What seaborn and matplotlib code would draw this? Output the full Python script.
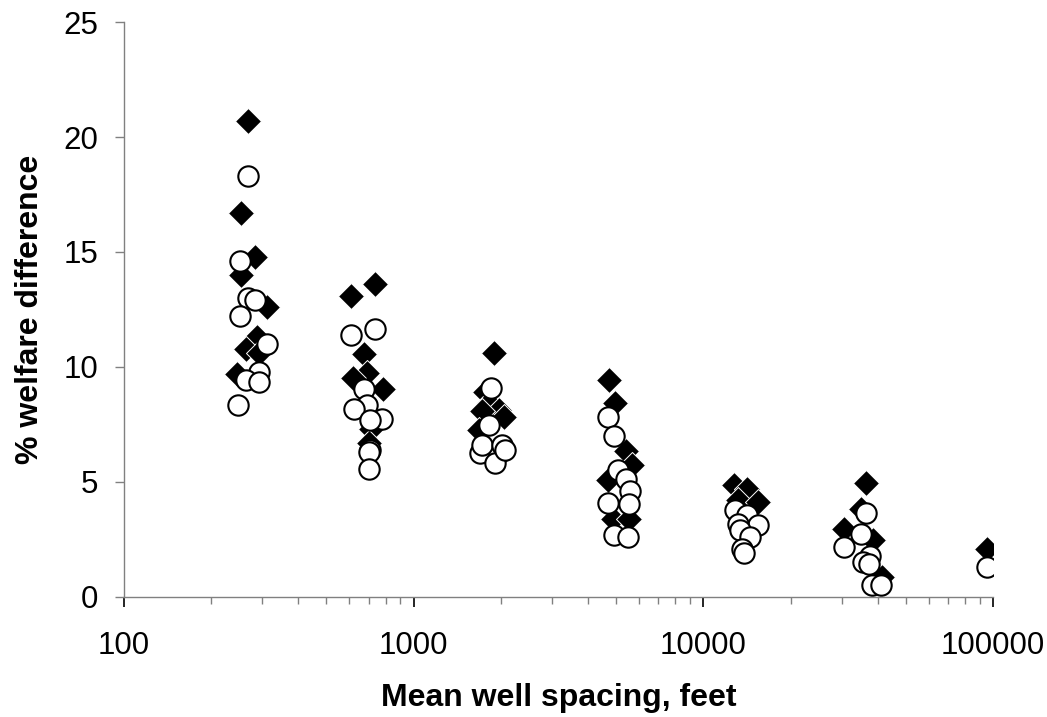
import pandas as pd
import numpy as np
import matplotlib
matplotlib.use('Agg')
import matplotlib.pyplot as plt
import matplotlib.ticker as mticker
import seaborn as sns

sns.set_style('white')
plt.rcParams['font.family'] = ['Liberation Sans', 'DejaVu Sans']
plt.rcParams['text.color'] = 'black'
plt.rcParams['axes.labelcolor'] = 'black'
plt.rcParams['xtick.labelcolor'] = 'black'
plt.rcParams['ytick.labelcolor'] = 'black'

# filled diamonds
diamond_x = [269, 253, 284, 253, 312, 289, 264, 293, 246,
             607, 738, 672, 693, 618, 782, 713, 700,
             1893, 1770, 1815, 1967, 2046, 1722, 1680,
             4710, 4940, 5430, 5680, 4670, 4860, 5530,
             12720, 14160, 13130, 15420,
             36550, 34900, 30530, 38500, 41500,
             95600]
diamond_y = [20.7, 16.7, 14.8, 14.0, 12.6, 11.3, 10.8, 10.6, 9.7,
             13.1, 13.6, 10.55, 9.75, 9.5, 9.04, 7.3, 6.7,
             10.62, 8.93, 8.42, 8.13, 7.84, 8.1, 7.26,
             9.42, 8.43, 6.33, 5.72, 5.1, 3.4, 3.4,
             4.86, 4.71, 4.2, 4.13,
             4.97, 3.84, 2.97, 2.46, 0.87,
             2.1]

# open circles
circle_x = [269, 252, 268, 283, 252, 311, 293, 263, 293, 248,
            607, 738, 672, 693, 623, 777, 706, 706, 700, 703,
            1853, 1815, 1698, 1967, 1915, 1722, 2020, 2070,
            4690, 4930, 5060, 5400, 5600, 4690, 5560, 4900, 5510,
            12890, 14160, 15420, 13130, 13340, 14530, 13600, 13780,
            36550, 30530, 34900, 37600, 35600, 37200, 38300, 41000,
            95600]
circle_y = [18.3, 14.6, 13.0, 12.9, 12.2, 11.0, 9.8, 9.45, 9.35, 8.36,
            11.4, 11.67, 9.06, 8.36, 8.19, 7.75, 7.7, 6.38, 6.3, 5.58,
            9.07, 7.48, 6.25, 6.25, 5.81, 6.6, 6.6, 6.4,
            7.83, 6.99, 5.5, 5.12, 4.6, 4.09, 4.06, 2.68, 2.6,
            3.77, 3.55, 3.14, 3.19, 2.93, 2.6, 2.1, 1.91,
            3.65, 2.17, 2.75, 1.77, 1.52, 1.42, 0.51, 0.5,
            1.3]

x_ticks = [100, 1000, 10000, 100000]
y_ticks = [0, 5, 10, 15, 20, 25]

diamonds = pd.DataFrame({'spacing': diamond_x, 'welfare': diamond_y})
circles = pd.DataFrame({'spacing': circle_x, 'welfare': circle_y})

fig, ax = plt.subplots(figsize=(10.47, 7.17), dpi=100)
fig.subplots_adjust(left=0.1184, right=0.9484, bottom=0.1674, top=0.9693)

sns.scatterplot(data=diamonds, x='spacing', y='welfare', marker='D', s=175,
                color='black', edgecolor='white', linewidth=0.7, ax=ax, zorder=3)
sns.scatterplot(data=circles, x='spacing', y='welfare', marker='o', s=215,
                color='white', edgecolor='black', linewidth=1.5, ax=ax, zorder=4)

ax.set_xscale('log')
ax.set_xlim(100, 100000)
ax.set_ylim(0, 25)

ax.set_xticks(x_ticks)
ax.set_xticklabels([str(t) for t in x_ticks])
ax.xaxis.set_minor_locator(mticker.LogLocator(base=10, subs=np.arange(2, 10)))
ax.xaxis.set_minor_formatter(mticker.NullFormatter())
ax.set_yticks(y_ticks)
ax.set_yticklabels([str(t) for t in y_ticks])

sns.despine(ax=ax)
for side in ['left', 'bottom']:
    ax.spines[side].set_color('#808080')
    ax.spines[side].set_linewidth(1.0)

ax.tick_params(axis='x', which='major', direction='out', length=7.5, width=1.2,
               color='black', labelsize=22.5, pad=17, bottom=True)
ax.tick_params(axis='x', which='minor', direction='out', length=5, width=1.0,
               color='#808080', bottom=True)
ax.tick_params(axis='y', which='major', direction='out', length=6.5, width=1.0,
               color='#808080', labelsize=22.5, pad=12, left=True)

ax.set_xlabel('Mean well spacing, feet', fontsize=23, fontweight='bold')
ax.set_ylabel('% welfare difference', fontsize=23, fontweight='bold')
ax.xaxis.set_label_coords(0.5, -0.149)
ax.yaxis.set_label_coords(-0.091, 0.5)
ax.grid(False)

plt.savefig('out.png', dpi=100)
plt.close()
